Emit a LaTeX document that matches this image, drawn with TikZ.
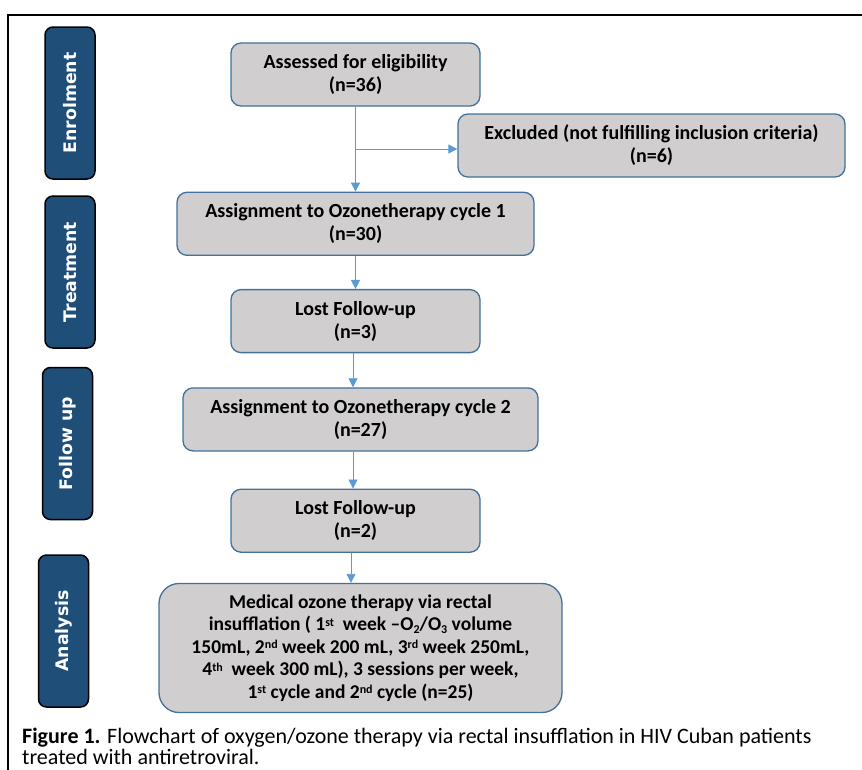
\documentclass[tikz,border=0pt]{standalone}
\usepackage{fontspec}
\setmainfont{Carlito}
\newfontfamily\sidefont{DejaVu Sans}
\usetikzlibrary{arrows.meta, positioning}
\definecolor{sideblue}{RGB}{31, 78, 121}
\definecolor{boxfill}{RGB}{208, 206, 206}
\definecolor{boxline}{RGB}{65, 113, 156}
\definecolor{arrowblue}{RGB}{91, 155, 213}
\newcommand{\sups}[1]{\raisebox{0.5ex}{\fontsize{12}{12}\selectfont #1}}
\newcommand{\subs}[1]{\raisebox{-0.3ex}{\fontsize{12}{12}\selectfont #1}}
\tikzset{
    stage/.style={rectangle, rounded corners=8pt, draw=black, fill=sideblue, line width=1.5pt, rotate=90, inner sep=0pt, minimum width=152pt, minimum height=50pt, text=white, font=\sidefont\bfseries\fontsize{17.3}{20}\selectfont},
    stepbox/.style={rectangle, rounded corners=10pt, draw=boxline, fill=boxfill, line width=1.3pt, align=center, inner sep=0pt, minimum height=63pt, font=\bfseries\fontsize{20}{23}\selectfont},
    bigbox/.style={stepbox, rounded corners=20pt, minimum height=129pt, font=\bfseries\fontsize{19.5}{22.5}\selectfont},
    arrow/.style={-{Triangle[width=9pt, length=9pt]}, line width=0.8pt, color=arrowblue}
}

\begin{document}
\begin{tikzpicture}[x=1pt, y=-1pt]

    \useasboundingbox (0,0) rectangle (862,769);
    \clip (0,0) rectangle (862,769);

    % Outer frame
    \draw [line width=2pt] (8,780) -- (8,15) -- (870,15);

    % Stages
    \node (senrol) [stage] at (70,103) {Enrolment};
    \node (streat) [stage] at (70,272) {Treatment};
    \node (sfollow) [stage] at (67.5,443.5) {Follow up};
    \node (sanal) [stage] at (63.5,631) {Analysis};

    % Flow boxes
    \node (assess) [stepbox, minimum width=249pt] at (355.5,74.5) {Assessed for eligibility\\(n=36)};
    \node (excl) [stepbox, minimum width=387pt] at (651.5,145.5) {Excluded (not fulfilling inclusion criteria)\\(n=6)};
    \node (cyc1) [stepbox, minimum width=357pt, below=85pt of assess] {Assignment to Ozonetherapy cycle 1\\(n=30)};
    \node (lost1) [stepbox, minimum width=249pt, below=33pt of cyc1] {Lost Follow-up\\(n=3)};
    \node (cyc2) [stepbox, minimum width=355pt, below=34pt of lost1, xshift=5pt] {Assignment to Ozonetherapy cycle 2\\(n=27)};
    \node (lost2) [stepbox, minimum width=249pt, below=37pt of cyc2, xshift=-5pt] {Lost Follow-up\\(n=2)};
    \node (ozone) [bigbox, minimum width=403pt, below=30pt of lost2, xshift=5pt] {Medical ozone therapy via rectal\\insufflation ( 1\sups{st}\ \ week --O\subs{2}/O\subs{3} volume\\150mL, 2\sups{nd} week 200 mL, 3\sups{rd} week 250mL,\\4\sups{th}\ \ week 300 mL), 3 sessions per week,\\1\sups{st} cycle and 2\sups{nd} cycle (n=25)};

    % Paths
    \coordinate (split) at (assess.south |- 0,149);
    \draw [arrow] (assess) -- (cyc1);
    \draw [arrow] (split) -- (split -| excl.west);
    \draw [arrow] (cyc1) -- (lost1);
    \draw [arrow] (lost1.south -| 353,0) -- (cyc2.north -| 353,0);
    \draw [arrow] (cyc2.south -| 353,0) -- (lost2.north -| 353,0);
    \draw [arrow] (lost2.south -| 351,0) -- (ozone.north -| 351,0);

    % Caption
    \node (cap1) [anchor=base west, inner sep=0pt, font=\fontsize{22}{24}\selectfont] at (22,743) {\textbf{Figure 1.} Flowchart of oxygen/ozone therapy via rectal insufflation in HIV Cuban patients};
    \node (cap2) [anchor=base west, inner sep=0pt, font=\fontsize{22}{24}\selectfont] at (22,764) {treated with antiretroviral.};

\end{tikzpicture}
\end{document}
